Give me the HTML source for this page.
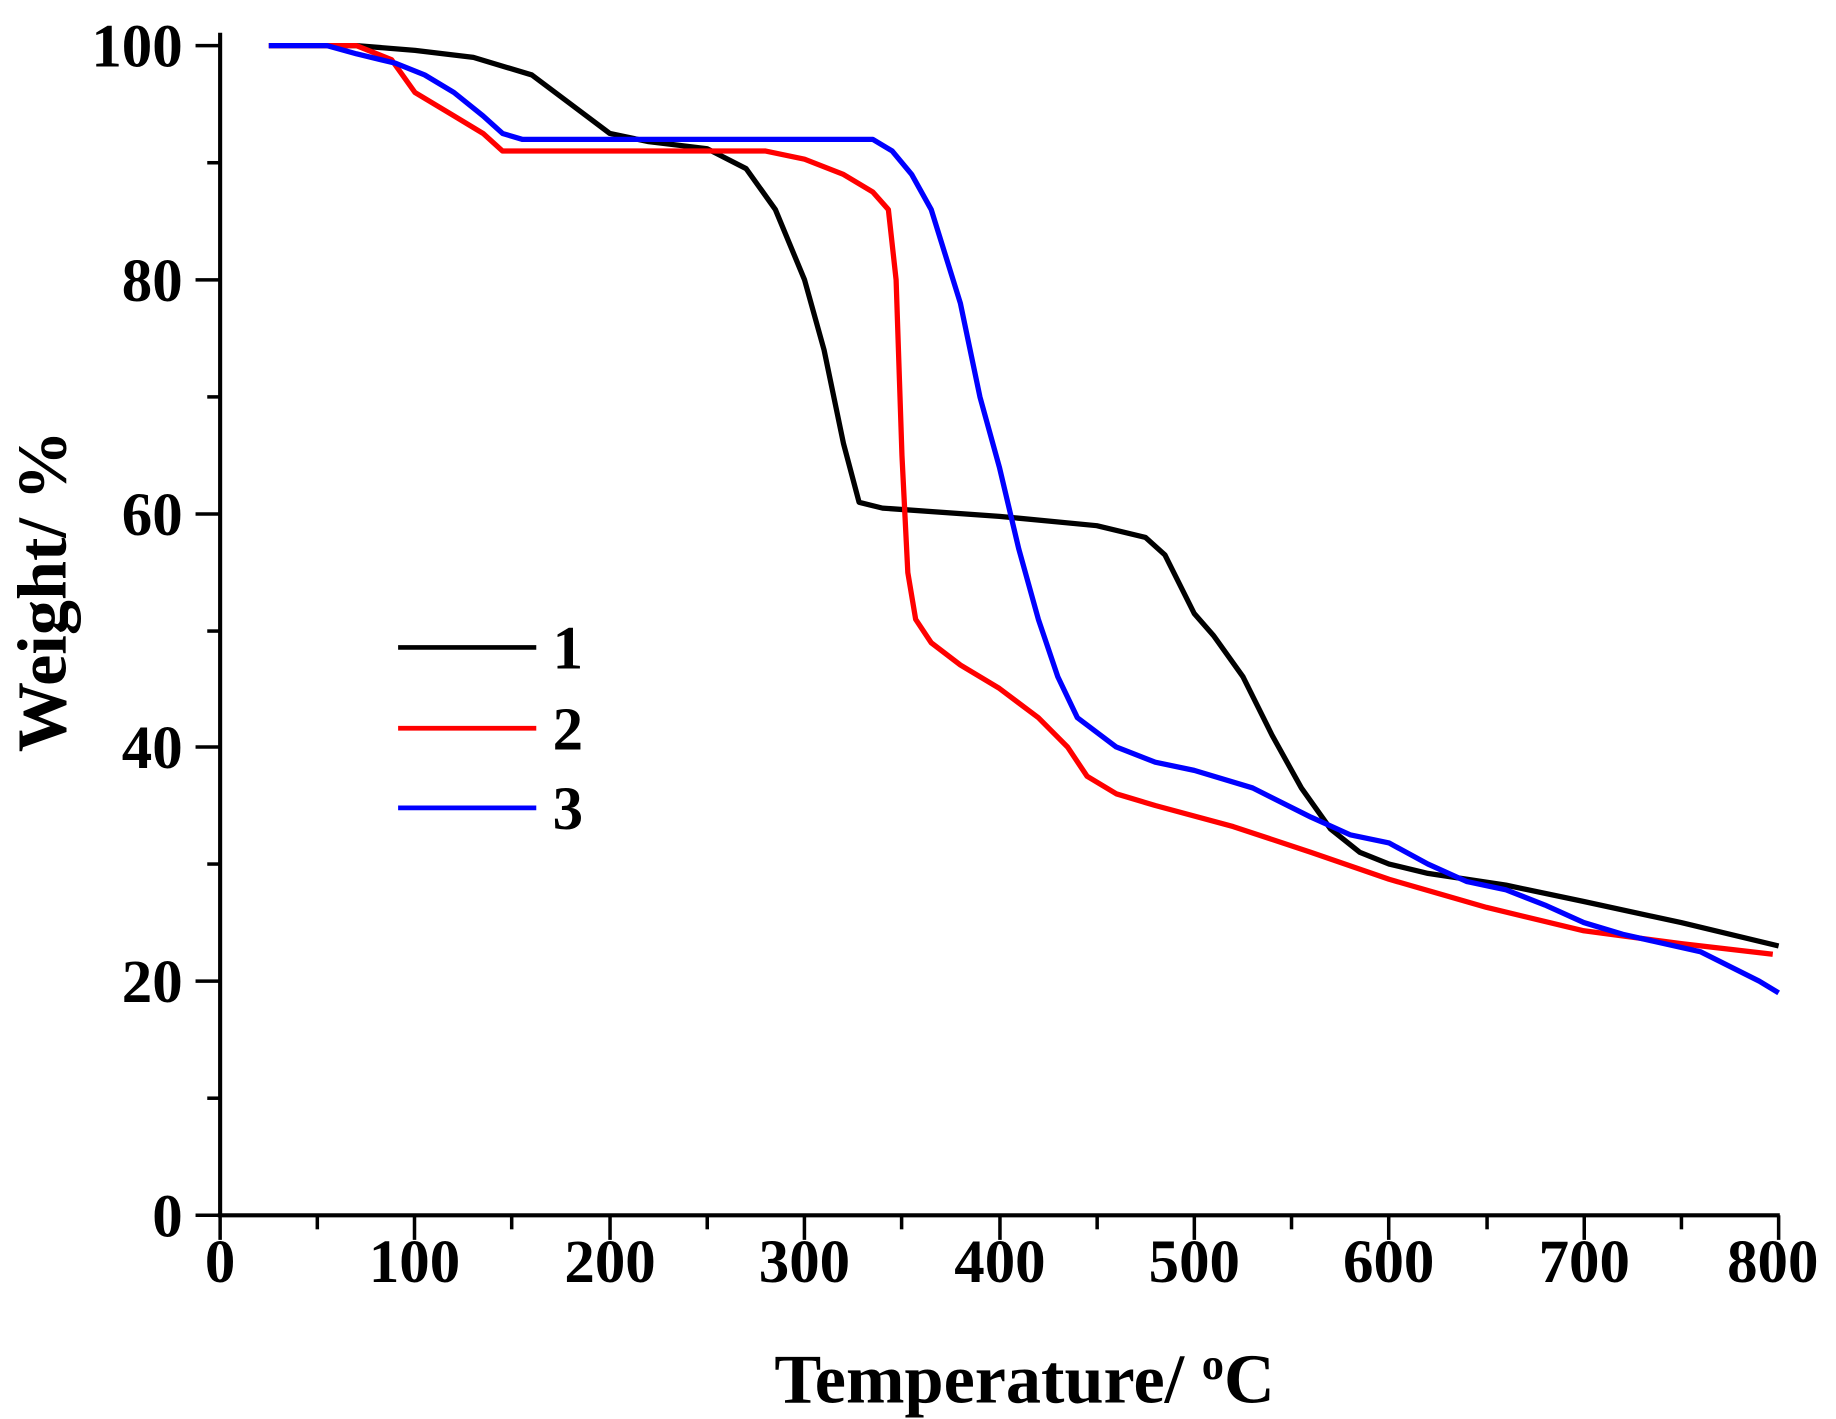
<!DOCTYPE html>
<html><head><style>html,body{margin:0;padding:0;background:#fff}svg{display:block}</style></head>
<body>
<svg width="1836" height="1419" viewBox="0 0 1568 1212" preserveAspectRatio="none" xmlns="http://www.w3.org/2000/svg" font-family="'Liberation Serif',serif" font-weight="bold">
<line x1="188" y1="28" x2="188" y2="1039" stroke="#000" stroke-width="3.5"/>
<line x1="186" y1="1038" x2="1520" y2="1038" stroke="#000" stroke-width="3.5"/>
<g stroke="#000" stroke-width="3">
<line x1="167" y1="39" x2="188" y2="39"/><line x1="167" y1="239" x2="188" y2="239"/><line x1="167" y1="439" x2="188" y2="439"/><line x1="167" y1="638" x2="188" y2="638"/><line x1="167" y1="838" x2="188" y2="838"/><line x1="167" y1="1038" x2="188" y2="1038"/>
<line x1="177" y1="139" x2="188" y2="139"/><line x1="177" y1="339" x2="188" y2="339"/><line x1="177" y1="539" x2="188" y2="539"/><line x1="177" y1="738" x2="188" y2="738"/><line x1="177" y1="938" x2="188" y2="938"/>
<line x1="188" y1="1038" x2="188" y2="1059"/><line x1="354" y1="1038" x2="354" y2="1059"/><line x1="521" y1="1038" x2="521" y2="1059"/><line x1="687" y1="1038" x2="687" y2="1059"/><line x1="854" y1="1038" x2="854" y2="1059"/><line x1="1020" y1="1038" x2="1020" y2="1059"/><line x1="1186" y1="1038" x2="1186" y2="1059"/><line x1="1353" y1="1038" x2="1353" y2="1059"/><line x1="1519" y1="1038" x2="1519" y2="1059"/>
<line x1="271" y1="1038" x2="271" y2="1050"/><line x1="437" y1="1038" x2="437" y2="1050"/><line x1="604" y1="1038" x2="604" y2="1050"/><line x1="770" y1="1038" x2="770" y2="1050"/><line x1="937" y1="1038" x2="937" y2="1050"/><line x1="1103" y1="1038" x2="1103" y2="1050"/><line x1="1270" y1="1038" x2="1270" y2="1050"/><line x1="1436" y1="1038" x2="1436" y2="1050"/>
</g>
<g font-size="52" text-anchor="end">
<text x="156" y="57">100</text><text x="156" y="257">80</text><text x="156" y="457">60</text><text x="156" y="656">40</text><text x="156" y="856">20</text><text x="156" y="1056">0</text>
</g>
<g font-size="52" text-anchor="middle">
<text x="188" y="1095">0</text><text x="354" y="1095">100</text><text x="521" y="1095">200</text><text x="687" y="1095">300</text><text x="854" y="1095">400</text><text x="1020" y="1095">500</text><text x="1186" y="1095">600</text><text x="1353" y="1095">700</text><text x="1514" y="1095">800</text>
</g>
<text x="875" y="1198" font-size="60" text-anchor="middle">Temperature/ <tspan font-size="38" dy="-20">o</tspan><tspan dy="20">C</tspan></text>
<text transform="translate(56,505) rotate(-90)" font-size="60" text-anchor="middle">Weight/ %</text>
<g stroke-width="4">
<line x1="340" y1="553" x2="458" y2="553" stroke="#000"/>
<line x1="340" y1="622" x2="458" y2="622" stroke="#f00"/>
<line x1="340" y1="690" x2="458" y2="690" stroke="#00f"/>
</g>
<g font-size="52"><text x="472" y="571">1</text><text x="472" y="640">2</text><text x="472" y="708">3</text></g>
<g fill="none" stroke-width="4.5" stroke-linejoin="round">
<polyline stroke="#000" points="229.6,39 304.5,39 354.4,43 404.3,49 454.2,64 487.5,89 520.8,114 554,121 603.9,127 637.2,144 662.2,179 687.1,239 703.8,299 720.4,379 733.7,429 753.7,434 853.5,441 936.7,449 978.3,459 994.9,474 1019.9,524 1036.5,543 1061.5,578 1086.4,628 1111.4,673 1136.3,708 1161.3,728 1186.3,738 1219.5,746 1286.1,756 1352.6,770 1435.8,788 1519,808"/>
<polyline stroke="#f00" points="229.6,39 304.5,39 334.4,51 354.4,79 387.7,99 412.6,114 429.2,129 454.2,129 653.9,129 687.1,136 720.4,149 745.4,164 758.7,179 765.3,239 770.3,389 775.3,489 782,529 795.3,549 820.2,568 853.5,588 886.8,613 911.7,638 928.4,663 953.3,678 986.6,688 1053.2,706 1119.7,728 1186.3,751 1269.4,775 1352.6,795 1435.8,806 1514,815"/>
<polyline stroke="#00f" points="229.6,39 279.5,39 304.5,46 337.7,54 362.7,64 387.7,79 412.6,99 429.2,114 445.9,119 745.4,119 762,129 778.6,149 795.3,179 820.2,259 836.9,339 853.5,399 870.1,469 886.8,529 903.4,578 920.1,613 953.3,638 986.6,651 1019.9,658 1069.8,673 1119.7,698 1153,713 1186.3,720 1219.5,738 1252.8,753 1286.1,760 1319.4,773 1352.6,788 1385.9,798 1452.5,813 1502.4,838 1519,848"/>
</g>
</svg>
</body></html>
